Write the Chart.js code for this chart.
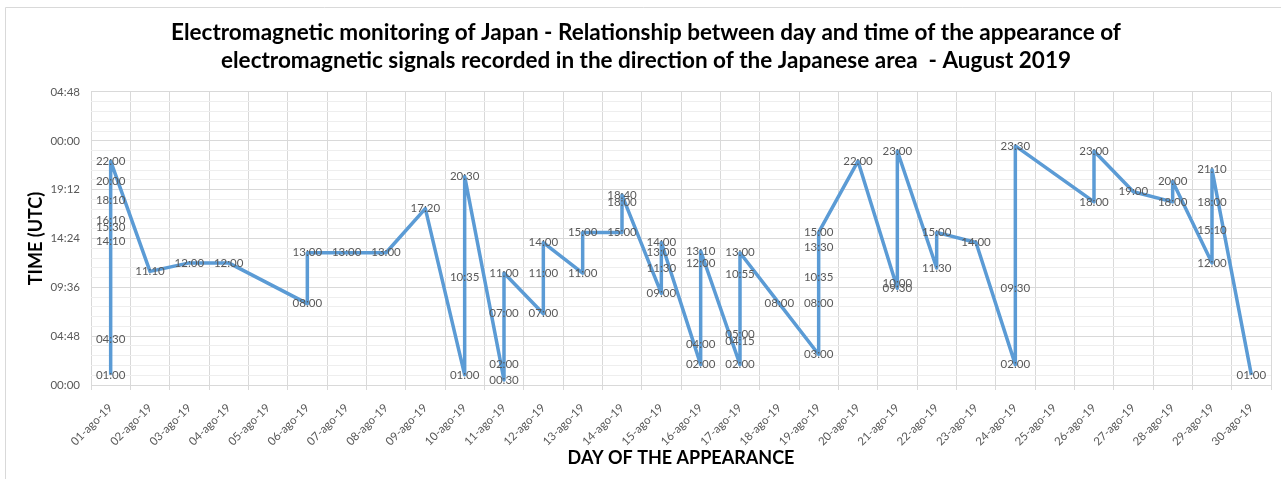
<!DOCTYPE html>
<html>
<head>
<meta charset="utf-8">
<title>Electromagnetic monitoring of Japan - August 2019</title>
<script src="https://cdn.jsdelivr.net/npm/chart.js@4.4.1/dist/chart.umd.min.js"></script>
<style>
  html, body { margin: 0; padding: 0; background: #fff; }
  #wrap { position: relative; width: 1281px; height: 479px; }
</style>
</head>
<body>
<div id="wrap"><canvas id="em-chart" width="1281" height="479"></canvas></div>
<script>
const dayLabels = [
  '01-ago-19', '02-ago-19', '03-ago-19', '04-ago-19', '05-ago-19', '06-ago-19',
  '07-ago-19', '08-ago-19', '09-ago-19', '10-ago-19', '11-ago-19', '12-ago-19',
  '13-ago-19', '14-ago-19', '15-ago-19', '16-ago-19', '17-ago-19', '18-ago-19',
  '19-ago-19', '20-ago-19', '21-ago-19', '22-ago-19', '23-ago-19', '24-ago-19',
  '25-ago-19', '26-ago-19', '27-ago-19', '28-ago-19', '29-ago-19', '30-ago-19'
];

// each signal: day of month + time (UTC), in the order the line joins them
const signalDay = [
  1, 1, 1, 1, 1, 1, 1, 1,
  2, 3, 4,
  6, 6, 7, 8, 9,
  10, 10, 10,
  11, 11, 11, 11,
  12, 12, 12,
  13, 13,
  14, 14, 14,
  15, 15, 15, 15,
  16, 16, 16, 16,
  17, 17, 17, 17, 17,
  18,
  19, 19, 19, 19, 19,
  20,
  21, 21, 21,
  22, 22, 23,
  24, 24, 24,
  26, 26, 27,
  28, 28,
  29, 29, 29, 29,
  30
];
const signalTime = [
  '01:00', '04:30', '14:10', '15:30', '16:10', '18:10', '20:00', '22:00',
  '11:10', '12:00', '12:00',
  '08:00', '13:00', '13:00', '13:00', '17:20',
  '01:00', '10:35', '20:30',
  '00:30', '02:00', '07:00', '11:00',
  '07:00', '11:00', '14:00',
  '11:00', '15:00',
  '15:00', '18:00', '18:40',
  '09:00', '11:30', '13:00', '14:00',
  '02:00', '04:00', '12:00', '13:10',
  '02:00', '04:15', '05:00', '10:55', '13:00',
  '08:00',
  '03:00', '08:00', '10:35', '13:30', '15:00',
  '22:00',
  '09:30', '10:00', '23:00',
  '11:30', '15:00', '14:00',
  '02:00', '09:30', '23:30',
  '18:00', '23:00', '19:00',
  '18:00', '20:00',
  '12:00', '15:10', '18:00', '21:10',
  '01:00'
];

// y axis runs 00:00 -> 04:48 of the next day, major step 4:48, 5 minor steps each
const yMaxHours = 28.8;
const yMajorHours = 4.8;
const yMinorPerMajor = 5;

const titleLines = [
  'Electromagnetic monitoring of Japan - Relationship between day and time of the appearance of',
  'electromagnetic signals recorded in the direction of the Japanese area  - August 2019'
];

function toHours(hhmm) {
  const parts = hhmm.split(':');
  return parseInt(parts[0], 10) + parseInt(parts[1], 10) / 60;
}

function fmtHours(v) {
  const mins = Math.round(v * 60);
  const hh = Math.floor(mins / 60) % 24;
  const mm = mins % 60;
  return String(hh).padStart(2, '0') + ':' + String(mm).padStart(2, '0');
}

const points = signalDay.map((d, i) => ({ x: dayLabels[d - 1], y: toHours(signalTime[i]) }));

const labelFont = { family: 'Lato', size: 11.5 };
const greyText = '#595959';

// time written on top of every point
const pointLabels = {
  id: 'pointLabels',
  afterDatasetsDraw(chart) {
    const ctx = chart.ctx;
    const meta = chart.getDatasetMeta(0);
    ctx.save();
    ctx.font = '11.5px Lato';
    ctx.fillStyle = greyText;
    ctx.textAlign = 'center';
    ctx.textBaseline = 'middle';
    meta.data.forEach((pt, i) => {
      ctx.fillText(signalTime[i], pt.x, pt.y);
    });
    ctx.restore();
  }
};

// thin frame round the chart
const chartFrame = {
  id: 'chartFrame',
  beforeDraw(chart) {
    const ctx = chart.ctx;
    ctx.save();
    ctx.strokeStyle = '#d9d9d9';
    ctx.lineWidth = 1;
    ctx.beginPath();
    ctx.moveTo(5.5, chart.height);
    ctx.lineTo(5.5, 7.5);
    ctx.lineTo(chart.width, 7.5);
    ctx.stroke();
    ctx.restore();
  }
};

const ctx = document.getElementById('em-chart').getContext('2d');
const emChart = new Chart(ctx, {
  type: 'line',
  data: {
    labels: dayLabels,
    datasets: [{
      data: points,
      borderColor: '#5B9BD5',
      borderWidth: 3.5,
      borderJoinStyle: 'round',
      pointRadius: 0,
      tension: 0,
      fill: false
    }]
  },
  options: {
    responsive: false,
    animation: false,
    layout: { padding: { left: 21, right: 10, top: 0, bottom: 0 } },
    plugins: {
      legend: { display: false },
      tooltip: { enabled: false },
      title: {
        display: true,
        text: titleLines,
        color: '#000',
        font: { family: 'Lato', size: 22.5, weight: 'bold', lineHeight: 1.244 },
        padding: { top: 19, bottom: 17 }
      }
    },
    scales: {
      x: {
        type: 'category',
        offset: true,
        grid: { offset: true, color: '#d9d9d9', tickLength: 5 },
        border: { color: '#d9d9d9' },
        ticks: {
          autoSkip: false,
          minRotation: 45,
          maxRotation: 45,
          padding: 11,
          color: greyText,
          font: labelFont
        },
        title: {
          display: true,
          text: 'DAY OF THE APPEARANCE',
          color: '#000',
          font: { family: 'Lato', size: 18, weight: 'bold' },
          padding: { top: 0, bottom: 10 }
        },
        afterFit(scale) { scale.height = 94; }
      },
      y: {
        min: 0,
        max: yMaxHours,
        afterBuildTicks(scale) {
          const step = yMajorHours / yMinorPerMajor;
          const n = Math.round(yMaxHours / step);
          const ticks = [];
          for (let i = 0; i <= n; i++) ticks.push({ value: i * step });
          scale.ticks = ticks;
        },
        grid: {
          drawTicks: false,
          color: (c) => (c.index % yMinorPerMajor === 0 ? '#d9d9d9' : '#eeeeee')
        },
        border: { display: false },
        ticks: {
          autoSkip: false,
          padding: 11,
          color: greyText,
          font: labelFont,
          callback: (v, i) => (i % yMinorPerMajor === 0 ? fmtHours(v) : '')
        },
        title: {
          display: true,
          text: 'TIME (UTC)',
          color: '#000',
          font: { family: 'Lato', size: 18, weight: 'bold' },
          padding: { top: 4, bottom: 0 }
        },
        afterFit(scale) { scale.width = 70; }
      }
    }
  },
  plugins: [chartFrame, pointLabels]
});
</script>
</body>
</html>
